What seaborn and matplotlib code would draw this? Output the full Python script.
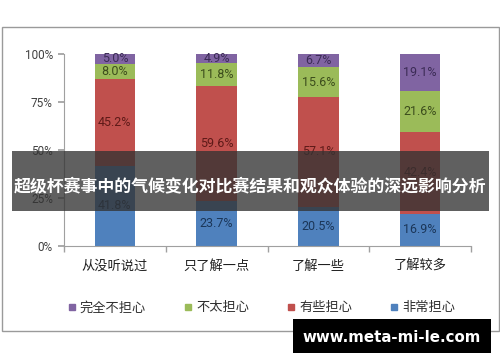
import matplotlib
matplotlib.use("Agg")
import matplotlib.pyplot as plt
from matplotlib.patches import Rectangle
from matplotlib.lines import Line2D
import seaborn as sns
import pandas as pd
import numpy as np

categories = ["从没听说过", "只了解一点", "了解一些", "了解较多"]
series_names = ["完全不担心", "不太担心", "有些担心", "非常担心"]
very_worried = [41.8, 23.7, 20.5, 16.9]
some_worried = [45.2, 59.6, 57.1, 42.4]
not_much = [8.0, 11.8, 15.6, 21.6]
not_at_all = [5.0, 4.9, 6.7, 19.1]
y_ticks = [0, 25, 50, 75, 100]
y_tick_labels = ["0%", "25%", "50%", "75%", "100%"]
banner_title = "超级杯赛事中的气候变化对比赛结果和观众体验的深远影响分析"
watermark = "www.meta-mi-le.com"

colors = {"完全不担心": "#8064A2", "不太担心": "#9BBB59", "有些担心": "#C0504D", "非常担心": "#4F81BD"}
label_colors = {"完全不担心": "#3b2b55", "不太担心": "#3c4d1c", "有些担心": "#5e1a18", "非常担心": "#1b3658"}

sns.set_theme(style="white")
plt.rcParams['font.family'] = ['Noto Sans CJK SC', 'DejaVu Sans']

# stacking order bottom -> top
stack = [("非常担心", very_worried), ("有些担心", some_worried),
         ("不太担心", not_much), ("完全不担心", not_at_all)]
df = pd.DataFrame({"category": categories})
cum = np.zeros(len(categories))
bottoms = {}
for name, vals in stack:
    bottoms[name] = cum.copy()
    cum = cum + np.array(vals)
    df[name + "_top"] = cum.copy()

fig = plt.figure(figsize=(5.0, 3.62), dpi=100)
fig.patch.set_facecolor("white")
ax = fig.add_axes([0.128, 0.3204, 0.814, 0.5304])

# draw cumulative totals from tallest to shortest
for name, vals in reversed(stack):
    sns.barplot(data=df, x="category", y=name + "_top", color=colors[name],
                width=0.4, saturation=1, ax=ax, order=categories,
                linewidth=0, edgecolor="none")

for name, vals in stack:
    for i, v in enumerate(vals):
        ax.text(i, bottoms[name][i] + v / 2, f"{v:.1f}%", ha="center", va="center",
                fontsize=9, color=label_colors[name], family="Roboto")

ax.set_ylim(0, 100)
ax.set_xlim(-0.5, 3.5)
ax.set_yticks(y_ticks)
ax.set_yticklabels(y_tick_labels, fontsize=8.5, color="#404040", family="Roboto")
ax.set_xticks(range(len(categories)))
ax.set_xticklabels(categories, fontsize=9.5, color="#202020")
ax.set_xticks([-0.5, 0.5, 1.5, 2.5, 3.5], minor=True)
ax.tick_params(axis="x", which="major", length=0, pad=10)
ax.tick_params(axis="x", which="minor", length=4, color="#a0a0a0", direction="out", bottom=True)
ax.tick_params(axis="y", length=4, color="#a0a0a0", direction="out", left=True, pad=4)
ax.set_xlabel("")
ax.set_ylabel("")
for s in ["top", "right"]:
    ax.spines[s].set_visible(False)
for s in ["left", "bottom"]:
    ax.spines[s].set_color("#a0a0a0")
    ax.spines[s].set_linewidth(0.8)

# chart frame
fig.patches.append(Rectangle((2 / 500, 1 - 331 / 362), 497 / 500, 304 / 362,
                             transform=fig.transFigure, fill=False,
                             edgecolor="#9a9a9a", linewidth=1.0, zorder=0))

handles = [Line2D([0], [0], marker="s", linestyle="", markersize=5,
                  markerfacecolor=colors[n], markeredgecolor=colors[n]) for n in series_names]
fig.legend(handles, series_names, loc="center", bbox_to_anchor=(0.523, 1 - 308 / 362),
           ncol=4, frameon=False, fontsize=9.5, handlelength=0.6, handletextpad=0.3,
           columnspacing=2.9, labelcolor="#303030")

# banner overlay
fig.patches.append(Rectangle((12 / 500, 1 - 211 / 362), 477 / 500, 60 / 362,
                             transform=fig.transFigure, facecolor=(0.2, 0.2, 0.2, 0.78),
                             edgecolor="none", zorder=10))
fig.text(0.5, 1 - 186 / 362, banner_title, ha="center", va="center", color="white",
         fontsize=12.2, fontweight="bold", zorder=11)

# watermark
fig.patches.append(Rectangle((293 / 500, 1 - 353 / 362), 198 / 500, 34 / 362,
                             transform=fig.transFigure, facecolor="black",
                             edgecolor="none", zorder=10))
fig.text(392 / 500, 1 - 337 / 362, watermark, ha="center", va="center", color="white",
         fontsize=10.8, fontweight="bold", family="DejaVu Sans", zorder=11)

fig.savefig("out.png", dpi=100)
